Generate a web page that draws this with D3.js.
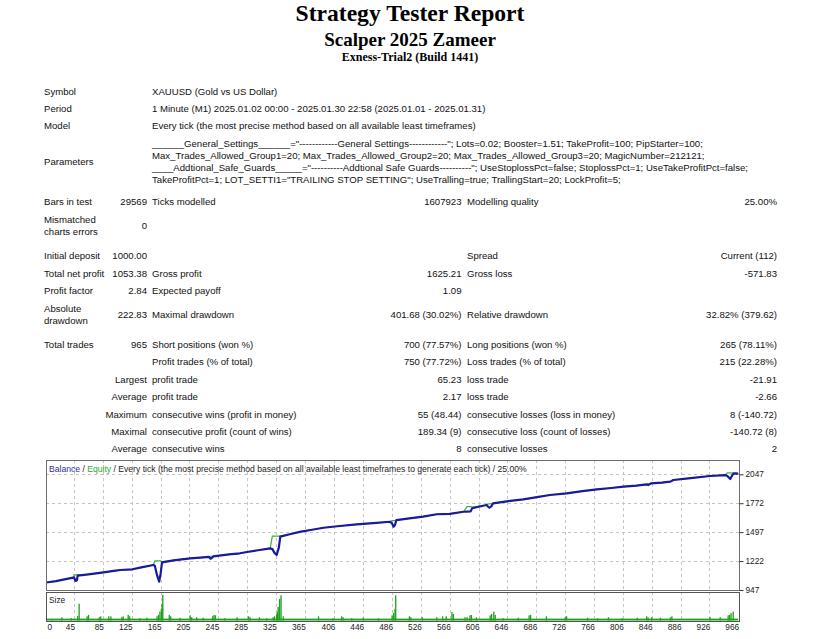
<!DOCTYPE html>
<html>
<head>
<meta charset="utf-8">
<script src="https://cdn.jsdelivr.net/npm/d3@7"></script>
<style>
  body { margin: 0; background: #fff; }
  svg { display: block; }
</style>
</head>
<body>
<div id="report"></div>
<script>
// ---- report header ----
const titleLines = ["Strategy Tester Report", "Scalper 2025 Zameer", "Exness-Trial2 (Build 1441)"];

// six columns: label | value | label | value | label | value  ("\n" = line break)
const summaryRows = [
  ["Symbol", "", "XAUUSD (Gold vs US Dollar)", "", "", ""],
  ["Period", "", "1 Minute (M1) 2025.01.02 00:00 - 2025.01.30 22:58 (2025.01.01 - 2025.01.31)", "", "", ""],
  ["Model", "", "Every tick (the most precise method based on all available least timeframes)", "", "", ""],
  ["Parameters", "",
    "______General_Settings______=\"------------General Settings------------\"; Lots=0.02; Booster=1.51; TakeProfit=100; PipStarter=100;\n" +
    "Max_Trades_Allowed_Group1=20; Max_Trades_Allowed_Group2=20; Max_Trades_Allowed_Group3=20; MagicNumber=212121;\n" +
    "____Addtional_Safe_Guards_____=\"----------Addtional Safe Guards----------\"; UseStoplossPct=false; StoplossPct=1; UseTakeProfitPct=false;\n" +
    "TakeProfitPct=1; LOT_SETTI1=\"TRAILING STOP SETTING\"; UseTralling=true; TrallingStart=20; LockProfit=5;",
    "", "", ""],
  ["Bars in test", "29569", "Ticks modelled", "1607923", "Modelling quality", "25.00%"],
  ["Mismatched\ncharts errors", "0", "", "", "", ""],
  ["Initial deposit", "1000.00", "", "", "Spread", "Current (112)"],
  ["Total net profit", "1053.38", "Gross profit", "1625.21", "Gross loss", "-571.83"],
  ["Profit factor", "2.84", "Expected payoff", "1.09", "", ""],
  ["Absolute\ndrawdown", "222.83", "Maximal drawdown", "401.68 (30.02%)", "Relative drawdown", "32.82% (379.62)"],
  ["Total trades", "965", "Short positions (won %)", "700 (77.57%)", "Long positions (won %)", "265 (78.11%)"],
  ["", "", "Profit trades (% of total)", "750 (77.72%)", "Loss trades (% of total)", "215 (22.28%)"],
  ["", "Largest", "profit trade", "65.23", "loss trade", "-21.91"],
  ["", "Average", "profit trade", "2.17", "loss trade", "-2.66"],
  ["", "Maximum", "consecutive wins (profit in money)", "55 (48.44)", "consecutive losses (loss in money)", "8 (-140.72)"],
  ["", "Maximal", "consecutive profit (count of wins)", "189.34 (9)", "consecutive loss (count of losses)", "-140.72 (8)"],
  ["", "Average", "consecutive wins", "8", "consecutive losses", "2"]
];

// ---- chart data: balance / equity by trade number ----
const curveTrades = [0, 6, 20, 30, 44, 45, 47, 49, 50, 65, 86, 100, 109, 126, 140, 155, 157, 160, 163, 165, 167,
  183, 206, 220, 232, 234, 236, 238, 260, 275, 287, 300, 317, 320, 323, 326, 329, 331, 344, 358, 375, 391, 410,
  437, 460, 483, 486, 488, 490, 492, 510, 529, 548, 566, 585, 590, 595, 597, 617, 619, 621, 624, 626, 645, 668,
  687, 705, 728, 750, 770, 790, 807, 825, 839, 841, 845, 860, 872, 876, 900, 927, 948, 951, 955, 958, 960, 966];
const balance = [1000, 1018, 1032, 1045, 1064, 1066, 1033, 1040, 1083, 1096, 1115, 1128, 1137, 1144, 1165, 1185, 1178, 1090, 1026, 1100, 1210,
  1229, 1248, 1255, 1262, 1245, 1250, 1266, 1285, 1296, 1311, 1325, 1343, 1336, 1300, 1280, 1350, 1454, 1477, 1499, 1520, 1539, 1553,
  1571, 1583, 1596, 1580, 1549, 1565, 1612, 1628, 1644, 1667, 1670, 1691, 1693, 1695, 1724, 1755, 1740, 1729, 1745, 1771, 1790, 1809,
  1830, 1850, 1866, 1887, 1904, 1917, 1929, 1940, 1952, 1944, 1960, 1968, 1977, 1993, 2010, 2031, 2040, 2030, 2002, 2040, 2056, 2053];
const equity = [1000, 1018, 1032, 1045, 1064, 1090, 1090, 1090, 1090, 1096, 1115, 1128, 1137, 1144, 1165, 1185, 1223, 1223, 1223, 1223, 1215,
  1229, 1248, 1255, 1262, 1268, 1268, 1268, 1285, 1296, 1311, 1325, 1343, 1460, 1460, 1460, 1460, 1460, 1477, 1499, 1520, 1539, 1553,
  1571, 1583, 1596, 1606, 1606, 1606, 1612, 1628, 1644, 1667, 1670, 1691, 1739, 1739, 1735, 1755, 1765, 1765, 1765, 1771, 1790, 1809,
  1830, 1850, 1866, 1887, 1904, 1917, 1929, 1940, 1952, 1955, 1960, 1968, 1977, 1993, 2010, 2031, 2040, 2060, 2060, 2060, 2058, 2053];

// ---- lot size per trade (spikes above the base lot) ----
const baseLot = 0.04;
const sizeTrades = [14, 28, 41, 50, 52, 63, 65, 80, 82, 93, 96, 111, 113, 120, 122, 136, 146, 160, 162, 164, 166, 167, 168,
  177, 179, 192, 206, 208, 215, 224, 237, 239, 241, 254, 271, 287, 289, 302, 312, 321, 323, 326, 327, 328, 330, 332, 335,
  384, 404, 416, 418, 430, 446, 467, 486, 488, 490, 491, 510, 512, 528, 548, 556, 561, 569, 571, 587, 590, 594, 596, 603,
  622, 624, 627, 629, 640, 661, 676, 678, 700, 726, 728, 757, 771, 786, 805, 826, 839, 841, 846, 858, 872, 874, 927, 941,
  952, 954, 956, 959];
const sizeLots = [0.03, 0.07, 0.05, 0.10, 0.36, 0.09, 0.12, 0.07, 0.09, 0.09, 0.09, 0.07, 0.09, 0.12, 0.09, 0.05, 0.06, 0.09, 0.12, 0.19, 0.25, 0.36, 0.55,
  0.12, 0.09, 0.06, 0.11, 0.07, 0.07, 0.06, 0.09, 0.12, 0.11, 0.05, 0.07, 0.09, 0.07, 0.07, 0.05, 0.07, 0.09, 0.14, 0.19, 0.29, 0.46, 0.54, 0.09,
  0.09, 0.05, 0.09, 0.07, 0.05, 0.06, 0.05, 0.11, 0.16, 0.25, 0.54, 0.09, 0.07, 0.07, 0.07, 0.09, 0.09, 0.18, 0.14, 0.07, 0.07, 0.11, 0.12, 0.07,
  0.11, 0.14, 0.19, 0.12, 0.05, 0.06, 0.11, 0.12, 0.09, 0.07, 0.09, 0.06, 0.05, 0.07, 0.05, 0.06, 0.09, 0.07, 0.07, 0.06, 0.07, 0.09, 0.07, 0.07,
  0.11, 0.12, 0.16, 0.19];

const xTicks = [0, 45, 85, 125, 165, 205, 245, 285, 325, 365, 406, 446, 486, 526, 566, 606, 646, 686, 726, 766, 806, 846, 886, 926, 966];
const yTicks = [947, 1222, 1497, 1772, 2047];

const legendText = "Every tick (the most precise method based on all available least timeframes to generate each tick) / 25.00%";

// ---------------------------------------------------------------
const W = 829, H = 639;
const svg = d3.select("#report").append("svg").attr("width", W).attr("height", H);
const sans = "'Liberation Sans', Arial, sans-serif";

// title block
const titleSizes = [23.6, 19, 12];
const titleBase = [21, 45.7, 60.7];
titleLines.forEach((t, i) => {
  svg.append("text")
    .attr("x", 410).attr("y", titleBase[i])
    .attr("text-anchor", "middle")
    .attr("font-family", "'Liberation Serif', 'Times New Roman', serif")
    .attr("font-weight", "bold")
    .attr("font-size", titleSizes[i] + "px")
    .attr("fill", "#000")
    .text(t);
});

// summary table
const rowCenters = [91.7, 108.7, 125.7, 161.7, 201.7, 225.7, 255.7, 273.3, 290.7, 314.5, 344.3, 361.7, 380, 396.7, 414.5, 431.7, 448.3];
const colX = [44, 147, 152, 461.5, 467, 777];
const colAnchor = ["start", "end", "start", "end", "start", "end"];

summaryRows.forEach((row, r) => {
  row.forEach((cell, c) => {
    if (!cell) return;
    const lines = cell.split("\n");
    const lh = lines.length > 2 ? 11.8 : 12.4;
    lines.forEach((ln, j) => {
      svg.append("text")
        .attr("x", colX[c])
        .attr("y", rowCenters[r] + (j - (lines.length - 1) / 2) * lh)
        .attr("dy", "0.35em")
        .attr("text-anchor", colAnchor[c])
        .attr("font-family", sans)
        .attr("font-size", "9.6px")
        .attr("fill", "#111")
        .text(ln);
    });
  });
});

// ---- chart ----
const L = 46, R = 739, T = 460, M = 590, ST = 592, B = 621;

const x = d3.scaleLinear().domain([0, 966]).range([41.6, 738.2]);
const y = d3.scaleLinear().domain([947, 2047]).range([M, 474.3]);
const ys = d3.scaleLinear().domain([0, 0.6]).range([B - 0.5, ST + 0.5]);

const defs = svg.append("defs");
defs.append("clipPath").attr("id", "clipMain")
  .append("rect").attr("x", L).attr("y", T).attr("width", R - L).attr("height", M - T);
defs.append("clipPath").attr("id", "clipSize")
  .append("rect").attr("x", L).attr("y", ST).attr("width", R - L).attr("height", B - ST);

svg.append("rect").attr("x", L).attr("y", T).attr("width", R - L).attr("height", B - T).attr("fill", "#fff");

// grid
const grid = svg.append("g").attr("stroke", "#c4c4c4").attr("stroke-dasharray", "3,3").attr("stroke-width", 1);
xTicks.filter(v => v > 0 && v < 966).forEach(v => {
  const px = Math.round(x(v)) + 0.5;
  grid.append("line").attr("x1", px).attr("x2", px).attr("y1", T).attr("y2", M);
  grid.append("line").attr("x1", px).attr("x2", px).attr("y1", ST).attr("y2", B);
});
yTicks.filter(v => v > 947).forEach(v => {
  const py = Math.round(y(v)) + 0.5;
  grid.append("line").attr("x1", L).attr("x2", R).attr("y1", py).attr("y2", py);
});

// equity + balance
const pts = curveTrades.map((t, i) => ({ t, b: balance[i], e: equity[i] }));
const main = svg.append("g").attr("clip-path", "url(#clipMain)");
main.append("path")
  .attr("d", d3.line().x(d => x(d.t)).y(d => y(d.e))(pts))
  .attr("fill", "none").attr("stroke", "#3cb043").attr("stroke-width", 1.2);
main.append("path")
  .attr("d", d3.line().x(d => x(d.t)).y(d => y(d.b))(pts))
  .attr("fill", "none").attr("stroke", "#1a1a9c").attr("stroke-width", 2.2)
  .attr("stroke-linejoin", "round");

// size panel
const size = svg.append("g").attr("clip-path", "url(#clipSize)");
size.append("rect")
  .attr("x", x(0)).attr("width", x(966) - x(0))
  .attr("y", ys(baseLot)).attr("height", ys(0) - ys(baseLot))
  .attr("fill", "#1aa31a");
size.selectAll("rect.bar")
  .data(sizeTrades.map((t, i) => ({ t, v: sizeLots[i] })))
  .join("rect").attr("class", "bar")
  .attr("x", d => x(d.t) - 0.6).attr("width", 1.3)
  .attr("y", d => ys(d.v)).attr("height", d => ys(0) - ys(d.v))
  .attr("fill", "#1aa31a");

// frames
svg.append("rect").attr("x", L + 0.5).attr("y", T + 0.5).attr("width", R - L).attr("height", M - T)
  .attr("fill", "none").attr("stroke", "#6e6e6e");
svg.append("rect").attr("x", L + 0.5).attr("y", ST + 0.5).attr("width", R - L).attr("height", B - ST)
  .attr("fill", "none").attr("stroke", "#555");

// legend line inside chart
const leg = svg.append("text").attr("x", 49).attr("y", 469).attr("dy", "0.35em")
  .attr("font-family", sans).attr("font-size", "8.6px").attr("fill", "#222");
leg.append("tspan").attr("fill", "#2b2ba8").text("Balance");
leg.append("tspan").text(" / ");
leg.append("tspan").attr("fill", "#2ea82e").text("Equity");
leg.append("tspan").text(" / " + legendText);

svg.append("text").attr("x", 49).attr("y", 600).attr("dy", "0.35em")
  .attr("font-family", sans).attr("font-size", "8.3px").attr("fill", "#222").text("Size");

// right axis
const yAxis = svg.append("g").attr("transform", `translate(${R + 0.5},0)`)
  .call(d3.axisRight(y).tickValues(yTicks).tickSize(4).tickPadding(2).tickFormat(d3.format("d")));
yAxis.select(".domain").remove();
yAxis.selectAll("line").attr("stroke", "#333");
yAxis.selectAll("text").attr("font-family", sans).attr("font-size", "8.3px").attr("fill", "#222");

// bottom axis (labels end at grid line)
const xAxis = svg.append("g").attr("transform", `translate(0,${B})`)
  .call(d3.axisBottom(x).tickValues(xTicks).tickSize(0).tickPadding(3.5).tickFormat(d3.format("d")));
xAxis.select(".domain").remove();
xAxis.selectAll("text")
  .attr("font-family", sans).attr("font-size", "8.3px").attr("fill", "#222")
  .attr("text-anchor", d => d === 0 ? "start" : "end")
  .attr("x", d => d === 0 ? L + 1 - x(0) : 0.5);
</script>
</body>
</html>
